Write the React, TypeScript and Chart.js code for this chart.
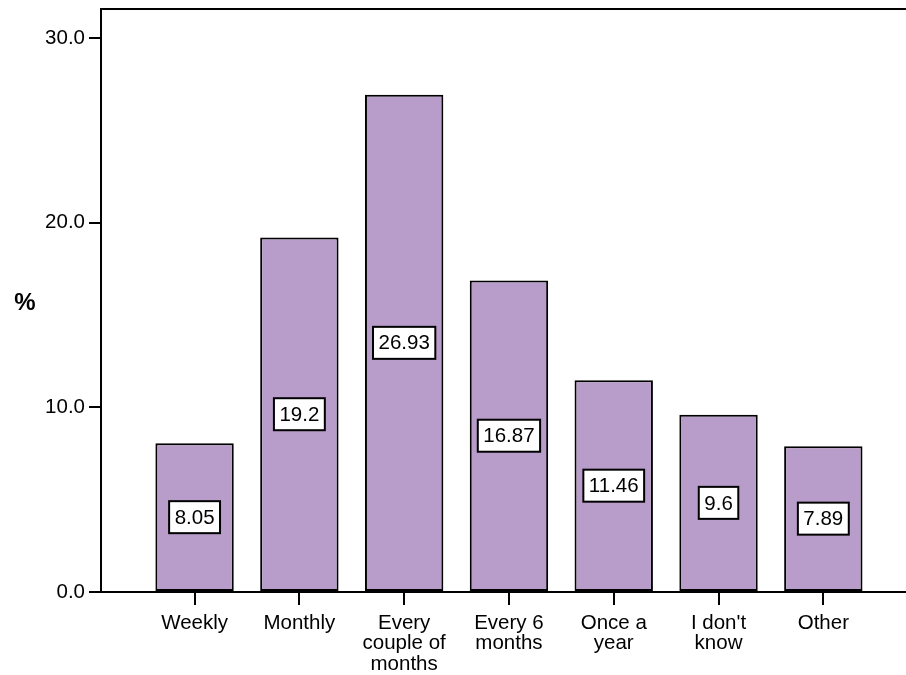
import { useEffect, useRef } from 'react';
import { Chart, registerables } from 'chart.js';

Chart.register(...registerables);

// Survey frequency categories and their share of respondents (%)
const categories = ['Weekly', 'Monthly', 'Every couple of months', 'Every 6 months', 'Once a year', "I don't know", 'Other'];
const tickLines = [['Weekly'], ['Monthly'], ['Every', 'couple of', 'months'], ['Every 6', 'months'], ['Once a', 'year'], ["I don't", 'know'], ['Other']];
const percentages = [8.05, 19.2, 26.93, 16.87, 11.46, 9.6, 7.89];
const valueLabels = ['8.05', '19.2', '26.93', '16.87', '11.46', '9.6', '7.89'];
const yTicks = [0, 10, 20, 30];

const FONT = '"Liberation Sans", Arial, Helvetica, sans-serif';
const BAR_FILL = '#b89cc9';

// Top frame line, the "%" axis caption and boxed value labels
const decorations = {
  id: 'decorations',
  afterDatasetsDraw(chart: any) {
    const { ctx, chartArea } = chart;
    ctx.save();
    ctx.strokeStyle = '#000';
    ctx.lineWidth = 2;
    ctx.beginPath();
    ctx.moveTo(chartArea.left, chartArea.top);
    ctx.lineTo(chartArea.right, chartArea.top);
    ctx.stroke();

    ctx.fillStyle = '#000';
    ctx.font = `bold 24px ${FONT}`;
    ctx.textAlign = 'center';
    ctx.textBaseline = 'middle';
    ctx.fillText('%', 25, (chartArea.top + chartArea.bottom) / 2 + 3);

    const meta = chart.getDatasetMeta(0);
    ctx.font = `20.5px ${FONT}`;
    meta.data.forEach((bar: any, i: number) => {
      const text = valueLabels[i];
      const cx = bar.x;
      const cy = (bar.y + bar.base) / 2;
      const w = ctx.measureText(text).width + 11;
      const h = 32;
      ctx.fillStyle = '#fff';
      ctx.fillRect(cx - w / 2, cy - h / 2, w, h);
      ctx.lineWidth = 2;
      ctx.strokeStyle = '#000';
      ctx.strokeRect(cx - w / 2, cy - h / 2, w, h);
      ctx.fillStyle = '#000';
      ctx.fillText(text, cx, cy + 1);
    });
    ctx.restore();
  },
};

export default function App() {
  const canvasRef = useRef<HTMLCanvasElement | null>(null);

  useEffect(() => {
    if (!canvasRef.current) return;
    const chart = new Chart(canvasRef.current, {
      type: 'bar',
      data: {
        datasets: [
          {
            data: percentages.map((v, i) => ({ x: i, y: v })),
            backgroundColor: BAR_FILL,
            borderColor: '#000',
            borderWidth: 2,
            borderSkipped: false,
            categoryPercentage: 1,
            barPercentage: 0.748,
          },
        ],
      },
      options: {
        animation: false,
        responsive: true,
        maintainAspectRatio: false,
        layout: { padding: { top: 9, left: 0, right: 0, bottom: 0 } },
        plugins: {
          legend: { display: false },
          tooltip: { enabled: false },
        },
        scales: {
          x: {
            type: 'linear',
            offset: false,
            min: -0.893,
            max: 6.789,
            afterBuildTicks: (scale: any) => {
              scale.ticks = categories.map((_, i) => ({ value: i }));
            },
            afterFit: (scale: any) => {
              scale.height = 83;
              scale.paddingLeft = 0;
              scale.paddingRight = 0;
            },
            ticks: {
              autoSkip: false,
              maxRotation: 0,
              minRotation: 0,
              padding: 8,
              color: '#000',
              font: { family: FONT, size: 20.5, lineHeight: 1.0 },
              callback: (v: any) => tickLines[Math.round(Number(v))] ?? '',
            },
            grid: {
              display: true,
              offset: false,
              drawOnChartArea: false,
              drawTicks: true,
              tickLength: 13,
              color: '#000',
              lineWidth: 2,
            },
            border: { display: true, color: '#000', width: 2 },
          },
          y: {
            min: 0,
            max: 31.57,
            afterBuildTicks: (scale: any) => {
              scale.ticks = yTicks.map((v) => ({ value: v }));
            },
            afterFit: (scale: any) => {
              scale.width = 101;
              scale.paddingTop = 0;
              scale.paddingBottom = 0;
            },
            ticks: {
              padding: 4,
              color: '#000',
              font: { family: FONT, size: 20.5 },
              callback: (v: any) => Number(v).toFixed(1),
            },
            grid: {
              display: true,
              drawOnChartArea: false,
              drawTicks: true,
              tickLength: 12,
              color: '#000',
              lineWidth: 2,
            },
            border: { display: true, color: '#000', width: 2 },
          },
        },
      },
      plugins: [decorations],
    } as any);
    return () => chart.destroy();
  }, []);

  return (
    <div style={{ position: 'fixed', left: 0, top: 0, width: 906, height: 675, background: '#fff' }}>
      <canvas ref={canvasRef} />
    </div>
  );
}
